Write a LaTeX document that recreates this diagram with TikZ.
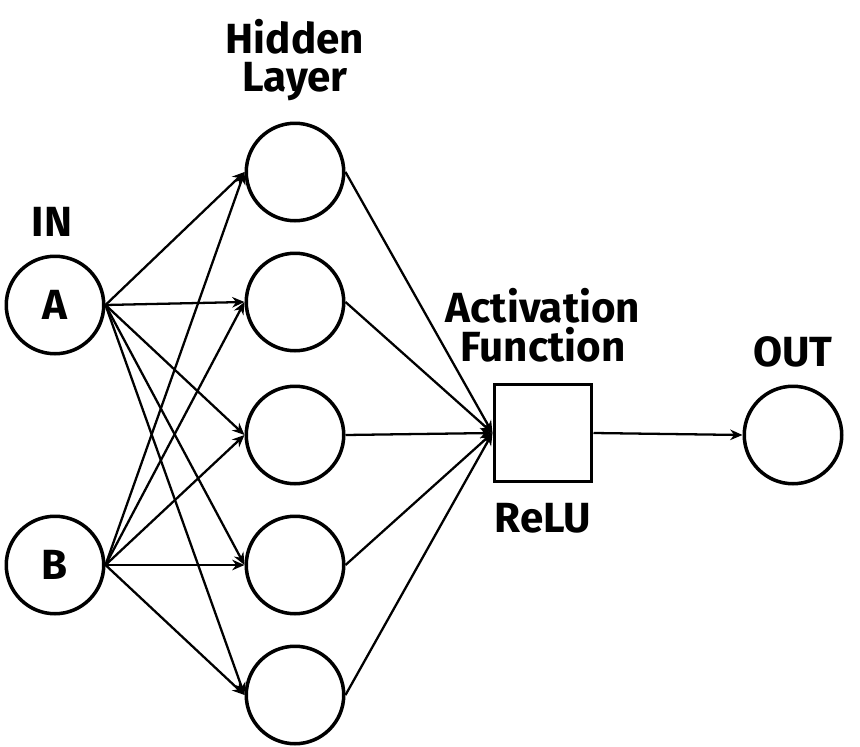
\documentclass[tikz,border=0pt]{standalone}
\usepackage{fontspec}
\setmainfont{Fira Sans}
\usetikzlibrary{positioning}
\usetikzlibrary{arrows.meta}

\tikzset{
  neuron/.style={draw,circle,line width=2pt,minimum size=1.95cm,inner sep=0pt},
  unit/.style={draw,rectangle,line width=2pt,minimum size=1.95cm,inner sep=0pt},
  conn/.style={line width=1.3pt,-{Stealth[length=7pt,width=6pt]}},
  lbl/.style={font=\fontsize{24}{26}\selectfont\bfseries,align=center}
}

\begin{document}
\begin{tikzpicture}[x=0.02cm,y=-0.02cm]
\useasboundingbox (0,0) rectangle (860,747);

% inputs
\node[neuron,lbl] (A) at (55,305) {A};
\node[neuron,lbl] (B) at (55,565) {B};
\node[lbl] (in) at (52,222) {IN};

% hidden layer
\foreach \i/\y in {1/172,2/302,3/435,4/565,5/695}
{
	\node[neuron] (h\i) at (295,\y) {};
	\draw[conn] (A.east) -- (h\i.west);
	\draw[conn] (B.east) -- (h\i.west);
}
\node[lbl] (hid) at (295,60) {Hidden\\[-4pt]Layer};

% activation
\node[unit] (relu) at (543,433) {};
\foreach \i in {1,...,5}
{
	\draw[conn] (h\i.east) -- (relu.west);
}
\node[lbl] (act) at (543,325) {Activation\\[-4pt]Function};
\node[lbl] (rl) at (543,518) {ReLU};

% output
\node[neuron] (out) at (793,435) {};
\node[lbl] (ol) at (793,352) {OUT};
\draw[conn] (relu.east) -- (out.west);
\end{tikzpicture}
\end{document}
